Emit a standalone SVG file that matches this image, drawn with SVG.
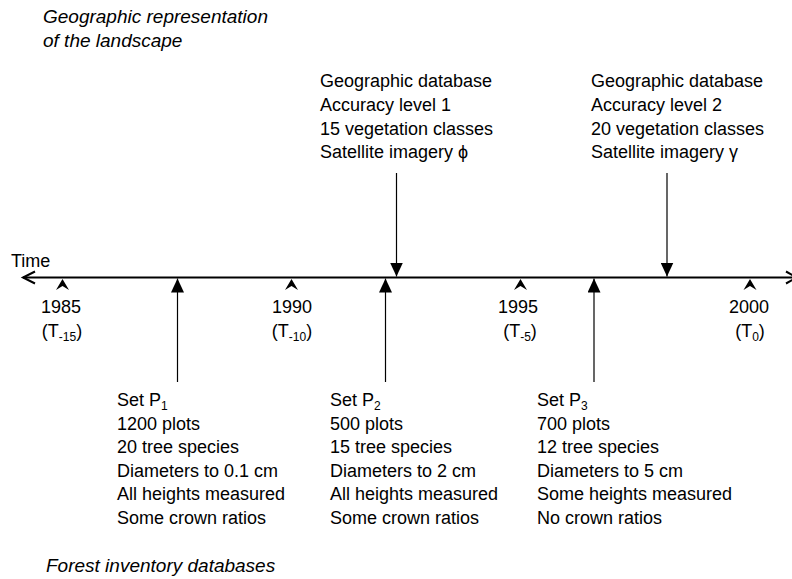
<svg xmlns="http://www.w3.org/2000/svg" width="792" height="579" viewBox="0 0 792 579">
  <style>
    text { font-family: "Liberation Sans", Arial, "DejaVu Sans", sans-serif; font-size: 18px; fill: #000; }
    .it { font-style: italic; font-size: 19px; }
    .mid { text-anchor: middle; }
    .sub { font-size: 12px; }
    .axis { stroke: #000; stroke-width: 2; fill: none; }
    .link { stroke: #000; stroke-width: 1.2; fill: none; }
    .tick { fill: #000; stroke: none; }
  </style>
  <defs>
    <marker id="head" viewBox="0 0 14 13" refX="14" refY="6.5" markerWidth="14" markerHeight="13" markerUnits="userSpaceOnUse" orient="auto">
      <path d="M0,0 L14,6.5 L0,13 Z" fill="#000"/>
    </marker>
  </defs>

  <g id="title">
    <text class="it" x="43" y="23">Geographic representation</text>
    <text class="it" x="43" y="47">of the landscape</text>
  </g>

  <g id="time-axis">
    <text x="11" y="267">Time</text>
    <line class="axis" x1="23" y1="277.5" x2="797" y2="277.5"/>
    <polyline class="axis" points="35,271.5 23,277.5 35,283.5"/>
    <polyline class="axis" points="786,271.5 797,277.5 786,283.5"/>
  </g>

  <g id="year-1985">
    <path class="tick" d="M62.5,279 L69,290 L62.5,286 L56,290 Z"/>
    <text class="mid" x="61" y="313">1985</text>
    <text class="mid" x="62" y="337">(T<tspan class="sub" dy="4">-15</tspan><tspan dy="-4">)</tspan></text>
  </g>
  <g id="year-1990">
    <path class="tick" d="M291.5,279 L298,290 L291.5,286 L285,290 Z"/>
    <text class="mid" x="292" y="313">1990</text>
    <text class="mid" x="292" y="337">(T<tspan class="sub" dy="4">-10</tspan><tspan dy="-4">)</tspan></text>
  </g>
  <g id="year-1995">
    <path class="tick" d="M520.5,279 L527,290 L520.5,286 L514,290 Z"/>
    <text class="mid" x="518" y="313">1995</text>
    <text class="mid" x="520" y="337">(T<tspan class="sub" dy="4">-5</tspan><tspan dy="-4">)</tspan></text>
  </g>
  <g id="year-2000">
    <path class="tick" d="M750,279 L756.5,290 L750,286 L743.5,290 Z"/>
    <text class="mid" x="749" y="313">2000</text>
    <text class="mid" x="750" y="337">(T<tspan class="sub" dy="4">0</tspan><tspan dy="-4">)</tspan></text>
  </g>

  <g id="geo-db-1">
    <text x="320" y="87">Geographic database</text>
    <text x="320" y="111">Accuracy level 1</text>
    <text x="320" y="134.5">15 vegetation classes</text>
    <text x="320" y="158">Satellite imagery ϕ</text>
  </g>
  <g id="geo-db-2">
    <text x="591" y="87">Geographic database</text>
    <text x="591" y="111">Accuracy level 2</text>
    <text x="591" y="134.5">20 vegetation classes</text>
    <text x="591" y="158">Satellite imagery γ</text>
  </g>

  <g id="set-p1">
    <text x="117" y="406">Set P<tspan class="sub" dy="4">1</tspan></text>
    <text x="117" y="429.5">1200 plots</text>
    <text x="117" y="453">20 tree species</text>
    <text x="117" y="476.5">Diameters to 0.1 cm</text>
    <text x="117" y="500">All heights measured</text>
    <text x="117" y="523.5">Some crown ratios</text>
  </g>
  <g id="set-p2">
    <text x="330" y="406">Set P<tspan class="sub" dy="4">2</tspan></text>
    <text x="330" y="429.5">500 plots</text>
    <text x="330" y="453">15 tree species</text>
    <text x="330" y="476.5">Diameters to 2 cm</text>
    <text x="330" y="500">All heights measured</text>
    <text x="330" y="523.5">Some crown ratios</text>
  </g>
  <g id="set-p3">
    <text x="537" y="406">Set P<tspan class="sub" dy="4">3</tspan></text>
    <text x="537" y="429.5">700 plots</text>
    <text x="537" y="453">12 tree species</text>
    <text x="537" y="476.5">Diameters to 5 cm</text>
    <text x="537" y="500">Some heights measured</text>
    <text x="537" y="523.5">No crown ratios</text>
  </g>

  <g id="footer">
    <text class="it" x="46" y="572">Forest inventory databases</text>
  </g>

  <g id="connectors">
    <line class="link" x1="177.5" y1="382" x2="177.5" y2="278.5" marker-end="url(#head)"/>
    <line class="link" x1="385.5" y1="382" x2="385.5" y2="278.5" marker-end="url(#head)"/>
    <line class="link" x1="594" y1="382" x2="594" y2="278.5" marker-end="url(#head)"/>
    <line class="link" x1="396.5" y1="173" x2="396.5" y2="276.5" marker-end="url(#head)"/>
    <line class="link" x1="667" y1="173" x2="667" y2="276.5" marker-end="url(#head)"/>
  </g>
</svg>
